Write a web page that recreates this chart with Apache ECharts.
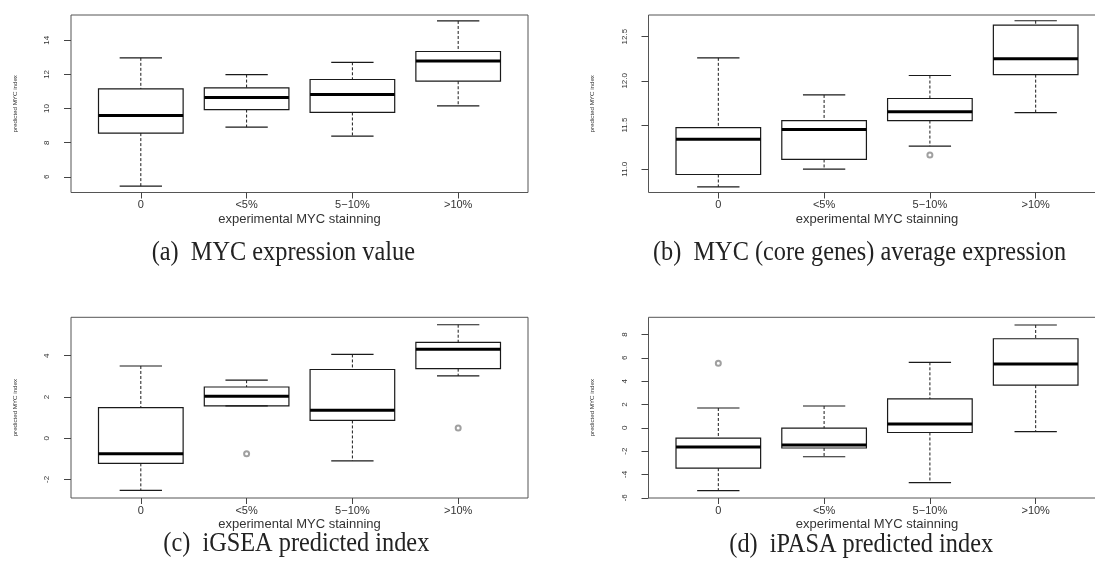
<!DOCTYPE html>
<html>
<head>
<meta charset="utf-8">
<script src="https://cdn.jsdelivr.net/npm/echarts@6/dist/echarts.min.js"></script>
<style>
html,body{margin:0;padding:0;background:#fff;}
#chart{width:1095px;height:566px;}
</style>
</head>
<body>
<div id="chart"></div>
<script>
// ---------- data ----------
const categories = ['0', '<5%', '5\u221210%', '>10%'];

// (a) MYC expression value
const aLow  = [5.45, 8.91, 8.38, 10.16];
const aQ1   = [8.56, 9.94, 9.77, 11.60];
const aMed  = [9.59, 10.64, 10.82, 12.79];
const aQ3   = [11.15, 11.21, 11.70, 13.34];
const aHigh = [12.97, 11.99, 12.71, 15.13];
const aOutCat = [];
const aOutVal = [];
const aTicks = [6, 8, 10, 12, 14];
const aTickLabels = ['6', '8', '10', '12', '14'];
const aRange = [5.08, 15.48];

// (b) MYC (core genes) average expression
const bLow  = [10.80, 11.00, 11.26, 11.64];
const bQ1   = [10.94, 11.11, 11.55, 12.07];
const bMed  = [11.34, 11.45, 11.65, 12.25];
const bQ3   = [11.47, 11.55, 11.80, 12.63];
const bHigh = [12.26, 11.84, 12.06, 12.68];
const bOutCat = [3];
const bOutVal = [11.16];
const bTicks = [11.0, 11.5, 12.0, 12.5];
const bTickLabels = ['11.0', '11.5', '12.0', '12.5'];
const bRange = [10.736, 12.745];

// (c) iGSEA predicted index
const cLow  = [-2.53, 1.57, -1.10, 3.02];
const cQ1   = [-1.22, 1.57, 0.86, 3.37];
const cMed  = [-0.75, 2.03, 1.36, 4.31];
const cQ3   = [1.48, 2.48, 3.33, 4.64];
const cHigh = [3.50, 2.81, 4.06, 5.50];
const cOutCat = [2, 4];
const cOutVal = [-0.75, 0.49];
const cTicks = [-2, 0, 2, 4];
const cTickLabels = ['-2', '0', '2', '4'];
const cRange = [-2.90, 5.86];

// (d) iPASA predicted index
const dLow  = [-5.39, -2.48, -4.70, -0.32];
const dQ1   = [-3.46, -1.73, -0.40, 3.66];
const dMed  = [-1.64, -1.47, 0.32, 5.48];
const dQ3   = [-0.89, -0.03, 2.48, 7.64];
const dHigh = [1.70, 1.87, 5.62, 8.82];
const dOutCat = [1];
const dOutVal = [5.53];
const dTicks = [-6, -4, -2, 0, 2, 4, 6, 8];
const dTickLabels = ['-6', '-4', '-2', '0', '2', '4', '6', '8'];
const dRange = [-6.02, 9.48];

const captions = ['(a)  MYC expression value', '(b)  MYC (core genes) average expression',
                  '(c)  iGSEA predicted index', '(d)  iPASA predicted index'];
const xTitle = 'experimental MYC stainning';
const yTitle = 'predicted MYC index';

// ---------- layout ----------
const panels = [
  {low:aLow,q1:aQ1,med:aMed,q3:aQ3,high:aHigh,oc:aOutCat,ov:aOutVal,ticks:aTicks,tl:aTickLabels,range:aRange,
   grid:{left:71,top:15,width:457,height:177.5}, cap:{x:151.7,y:253}},
  {low:bLow,q1:bQ1,med:bMed,q3:bQ3,high:bHigh,oc:bOutCat,ov:bOutVal,ticks:bTicks,tl:bTickLabels,range:bRange,
   grid:{left:648.5,top:15,width:457,height:177.5}, cap:{x:653,y:253}},
  {low:cLow,q1:cQ1,med:cMed,q3:cQ3,high:cHigh,oc:cOutCat,ov:cOutVal,ticks:cTicks,tl:cTickLabels,range:cRange,
   grid:{left:71,top:317.3,width:457,height:180.7}, cap:{x:163.3,y:544}},
  {low:dLow,q1:dQ1,med:dMed,q3:dQ3,high:dHigh,oc:dOutCat,ov:dOutVal,ticks:dTicks,tl:dTickLabels,range:dRange,
   grid:{left:648.5,top:317.3,width:457,height:180.7}, cap:{x:729.3,y:545}}
];

const SANS = '"Liberation Sans", Arial, sans-serif';
const SERIF = '"Liberation Serif", "Times New Roman", serif';
const CAP_SIZE = 28;

// horizontal squeeze so caption (a) spans its measured width
const mctx = document.createElement('canvas').getContext('2d');
mctx.font = CAP_SIZE + 'px ' + SERIF;
const capScale = 263.3 / mctx.measureText(captions[0]).width;

function renderBox(params, api) {
  const x = api.value(0);
  const lo = api.coord([x, api.value(1)]);
  const q1 = api.coord([x, api.value(2)]);
  const md = api.coord([x, api.value(3)]);
  const q3 = api.coord([x, api.value(4)]);
  const hi = api.coord([x, api.value(5)]);
  const bw = api.size([0.8, 0])[0];
  const cw = api.size([0.4, 0])[0];
  const cx = lo[0];
  const stroke = '#1a1a1a';
  const dash = {stroke: stroke, lineWidth: 1, lineDash: [3, 2]};
  const solid = {stroke: stroke, lineWidth: 1.2};
  return {
    type: 'group',
    children: [
      {type:'line', shape:{x1:cx,y1:hi[1],x2:cx,y2:q3[1]}, style:dash},
      {type:'line', shape:{x1:cx,y1:q1[1],x2:cx,y2:lo[1]}, style:dash},
      {type:'line', shape:{x1:cx-cw/2,y1:hi[1],x2:cx+cw/2,y2:hi[1]}, style:solid},
      {type:'line', shape:{x1:cx-cw/2,y1:lo[1],x2:cx+cw/2,y2:lo[1]}, style:solid},
      {type:'rect', shape:{x:cx-bw/2,y:q3[1],width:bw,height:q1[1]-q3[1]}, style:{fill:'none',stroke:stroke,lineWidth:1.2}},
      {type:'line', shape:{x1:cx-bw/2,y1:md[1],x2:cx+bw/2,y2:md[1]}, style:{stroke:'#000',lineWidth:3}}
    ]
  };
}

const option = {
  animation: false,
  backgroundColor: '#fff',
  grid: panels.map(p => Object.assign({show:true, borderColor:'#555', borderWidth:1, backgroundColor:'transparent',
                                        containLabel:false, outerBoundsMode:'none'}, p.grid)),
  xAxis: panels.map((p, i) => ({
    type: 'value', gridIndex: i, min: 0.34, max: 4.66,
    axisLine: {show: false, onZero: false}, splitLine: {show: false},
    axisTick: {show: true, length: 6, customValues: [1, 2, 3, 4], lineStyle: {color: '#444'}},
    axisLabel: {customValues: [1, 2, 3, 4], formatter: v => categories[Math.round(v) - 1],
                fontSize: 11, color: '#333', margin: 7, fontFamily: SANS},
    name: xTitle, nameLocation: 'middle', nameGap: 20,
    nameTextStyle: {fontSize: 13, color: '#333', fontFamily: SANS}
  })),
  yAxis: panels.map((p, i) => ({
    type: 'value', gridIndex: i, min: p.range[0], max: p.range[1],
    axisLine: {show: false, onZero: false}, splitLine: {show: false},
    axisTick: {show: true, length: 7, customValues: p.ticks, lineStyle: {color: '#444'}},
    axisLabel: {customValues: p.ticks, rotate: 90,
                formatter: v => { const k = p.ticks.findIndex(t => Math.abs(t - v) < 1e-6); return k >= 0 ? p.tl[k] : ''; },
                fontSize: 8, color: '#333', margin: 20, fontFamily: SANS},
    name: yTitle, nameLocation: 'middle', nameGap: 53, nameRotate: 90,
    nameTextStyle: {fontSize: 6.2, color: '#333', fontFamily: SANS}
  })),
  series: [].concat(
    panels.map((p, i) => ({
      type: 'custom', xAxisIndex: i, yAxisIndex: i, renderItem: renderBox,
      encode: {x: 0, y: [1, 2, 3, 4, 5]},
      data: categories.map((c, k) => [k + 1, p.low[k], p.q1[k], p.med[k], p.q3[k], p.high[k]]),
      z: 3
    })),
    panels.map((p, i) => ({
      type: 'scatter', xAxisIndex: i, yAxisIndex: i, symbol: 'emptyCircle', symbolSize: 5,
      itemStyle: {color: '#888', borderWidth: 0.8},
      data: p.oc.map((c, k) => [c, p.ov[k]]),
      z: 4
    }))
  ),
  graphic: panels.map((p, i) => ({
    type: 'text', x: p.cap.x, y: p.cap.y, scaleX: capScale, originX: 0, originY: 0,
    style: {text: captions[i], font: CAP_SIZE + 'px ' + SERIF, fill: '#222', align: 'left', verticalAlign: 'middle'}
  }))
};

const chart = echarts.init(document.getElementById('chart'), null, {renderer: 'canvas'});
chart.setOption(option);
</script>
</body>
</html>
